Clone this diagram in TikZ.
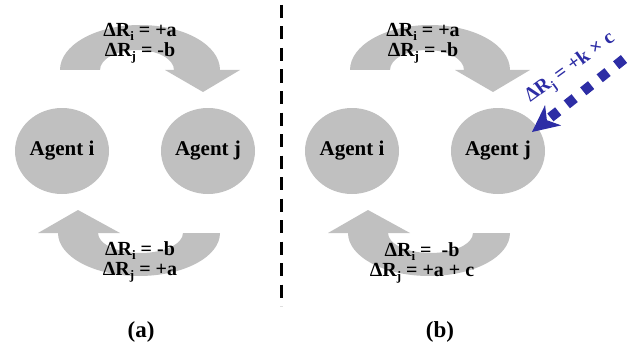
\documentclass[tikz,border=0pt]{standalone}
\usepackage{fontspec}
\setmainfont{Liberation Serif}
\usetikzlibrary{shapes.geometric,arrows.meta}
\definecolor{shapegray}{RGB}{192,192,192}
\definecolor{arrowblue}{RGB}{45,45,165}
\newcommand{\lowsub}[1]{\raisebox{-0.22em}{\fontsize{13}{13}\selectfont #1}}
\begin{document}
\begin{tikzpicture}[x=1pt,y=-1pt,
  agent/.style={ellipse, fill=shapegray, minimum width=94pt, minimum height=86pt, inner sep=0pt, font=\fontsize{21}{24}\selectfont\bfseries},
  band/.style={fill=shapegray},
  lbl/.style={align=center, font=\fontsize{20}{20}\selectfont\bfseries, inner sep=0pt},
  plabel/.style={font=\fontsize{23}{26}\selectfont\bfseries, inner sep=0pt},
  divider/.style={line width=3pt, dash pattern=on 13pt off 8.5pt},
  kdash/.style={draw=arrowblue, line width=10pt, dash pattern=on 10pt off 11pt,
    -{Stealth[length=27pt 0 0, width=26pt 0 0, inset=8pt 0 0, line width=0pt, fill=arrowblue]}},
  ktext/.style={text=arrowblue, font=\fontsize{20}{20}\selectfont\bfseries, inner sep=0pt}
]
\useasboundingbox (0,0) rectangle (637,345);

% ---------- panel (a) ----------
\fill[band] (60,70) arc[start angle=180, end angle=360, x radius=80, y radius=45]
  -- (240,70) -- (203,92) -- (165,70) -- (174,70)
  arc[start angle=0, end angle=-180, x radius=37, y radius=20] -- cycle;
\fill[band] (220,233) arc[start angle=0, end angle=180, x radius=81, y radius=43]
  -- (38,233) -- (78,210) -- (120,233) -- (98,233)
  arc[start angle=180, end angle=0, x radius=42.5, y radius=20] -- cycle;
\node[agent] (ai) at (62,151) {Agent i};
\node[agent] (aj) at (208,151) {Agent j};
\node[lbl] (ta) at (140,43) {ΔR\lowsub{i} = +a\\ΔR\lowsub{j} = -b};
\node[lbl] (ba) at (140,262) {ΔR\lowsub{i} = -b\\ΔR\lowsub{j} = +a};
\node[plabel] (la) at (141,332) {(a)};

% ---------- divider ----------
\coordinate (dtop) at (281,5);
\coordinate (dbot) at (281,306);
\draw[divider] (dtop) -- (dbot);

% ---------- panel (b) ----------
\begin{scope}[xshift=290pt]
\fill[band] (60,70) arc[start angle=180, end angle=360, x radius=80, y radius=45]
  -- (240,70) -- (203,92) -- (165,70) -- (174,70)
  arc[start angle=0, end angle=-180, x radius=37, y radius=20] -- cycle;
\fill[band] (220,233) arc[start angle=0, end angle=180, x radius=81, y radius=43]
  -- (38,233) -- (78,210) -- (120,233) -- (98,233)
  arc[start angle=180, end angle=0, x radius=42.5, y radius=20] -- cycle;
\node[agent] (bi) at (62,151) {Agent i};
\node[agent] (bj) at (208,151) {Agent j};
\end{scope}
\node[lbl] (tb) at (423,43) {ΔR\lowsub{i} = +a\\ΔR\lowsub{j} = -b};
\node[lbl] (bb) at (422,263) {ΔR\lowsub{i} =\ \ -b\\ΔR\lowsub{j} = +a + c};
\node[plabel] (lb) at (440,332) {(b)};

% blue external input
\coordinate (ks) at (624,59);
\coordinate (kt) at (532,132);
\draw[kdash] (ks) -- (kt);
\node[ktext, rotate=36] (kl) at (571,69) {ΔR\lowsub{j} = +k × c};
\end{tikzpicture}
\end{document}
